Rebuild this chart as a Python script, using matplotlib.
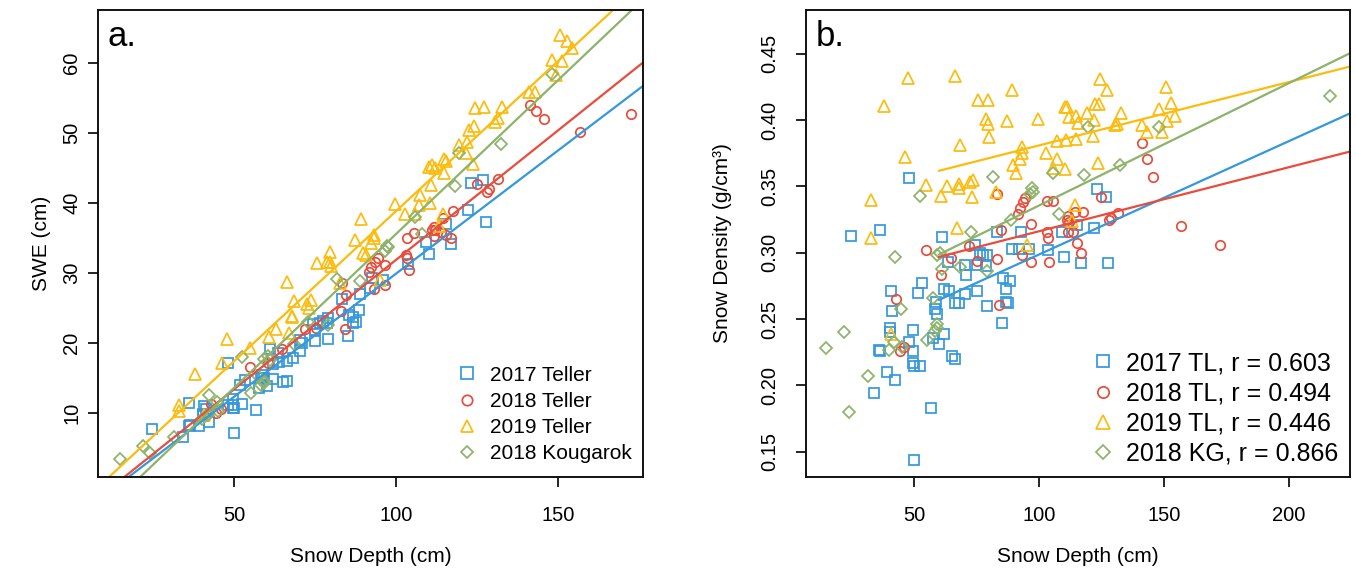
import numpy as np
import matplotlib
matplotlib.use('Agg')
import matplotlib.pyplot as plt

plt.rcParams['font.family'] = ['Liberation Sans', 'DejaVu Sans']

# snow depth (cm) and bulk density (g/cm3)
d17 = [48.0, 24.8, 36.2, 61.2, 74.4, 83.2, 92.6, 89.0, 92.0, 95.8, 103.7, 77.5, 79.1, 76.4,
       63.5, 70.4, 75.1, 78.8, 70.8, 85.5, 88.4, 86.8, 53.3, 51.7, 40.8, 62.1, 64.0, 70.4,
       75.1, 66.4, 68.1, 79.1, 86.8, 87.7, 58.7, 58.4, 59.1, 41.3, 85.1, 49.7, 40.4, 40.4,
       62.1, 60.1, 49.5, 48.0, 57.7, 36.0, 36.4, 39.1, 42.4, 34.1, 49.7, 50.0, 52.4, 56.8,
       50.1, 65.1, 66.4, 123.1, 126.8, 109.1, 115.3, 122.1, 110.0, 116.8, 127.7]
r17 = [0.356, 0.313, 0.317, 0.312, 0.306, 0.316, 0.316, 0.303, 0.303, 0.303, 0.302, 0.298,
       0.298, 0.300, 0.293, 0.291, 0.291, 0.290, 0.283, 0.281, 0.279, 0.273, 0.277, 0.270,
       0.271, 0.273, 0.271, 0.269, 0.271, 0.262, 0.262, 0.260, 0.263, 0.262, 0.263, 0.258,
       0.254, 0.256, 0.247, 0.242, 0.243, 0.240, 0.239, 0.231, 0.226, 0.233, 0.236, 0.227,
       0.226, 0.210, 0.204, 0.194, 0.217, 0.215, 0.215, 0.183, 0.144, 0.222, 0.220, 0.348,
       0.342, 0.316, 0.321, 0.319, 0.297, 0.292, 0.292]

d18 = [83.3, 54.8, 72.0, 84.6, 91.7, 92.4, 93.6, 94.5, 96.7, 103.1, 103.5, 103.3, 105.4,
       93.1, 83.1, 64.9, 75.2, 96.6, 60.6, 42.8, 84.1, 44.4, 46.0, 104.1, 141.2, 143.3,
       145.7, 124.9, 111.7, 111.1, 112.1, 114.4, 117.5, 128.0, 128.8, 131.5, 111.7, 113.7,
       115.3, 116.8, 156.8, 172.4]
r18 = [0.344, 0.302, 0.305, 0.317, 0.329, 0.334, 0.338, 0.341, 0.322, 0.316, 0.311, 0.339,
       0.339, 0.298, 0.295, 0.296, 0.294, 0.293, 0.283, 0.265, 0.261, 0.226, 0.229, 0.293,
       0.383, 0.371, 0.357, 0.342, 0.328, 0.325, 0.323, 0.331, 0.331, 0.325, 0.326, 0.330,
       0.316, 0.316, 0.307, 0.300, 0.320, 0.306]

d19 = [47.7, 66.2, 37.8, 75.7, 79.5, 89.3, 78.7, 79.7, 87.2, 99.5, 80.0, 68.4, 46.2, 93.1,
       93.3, 92.4, 89.7, 90.7, 102.7, 54.8, 63.0, 68.0, 68.0, 72.4, 73.6, 60.8, 73.0, 82.7,
       32.9, 32.9, 67.0, 95.0, 40.7, 124.4, 127.1, 110.2, 111.0, 112.1, 114.8, 115.5, 119.3,
       122.4, 124.0, 122.0, 132.8, 130.4, 131.3, 121.7, 114.7, 110.8, 107.3, 107.0, 105.7,
       110.4, 123.7, 141.1, 143.0, 148.1, 150.7, 152.8, 154.4, 151.1, 149.2, 114.4, 113.3]
r19 = [0.432, 0.433, 0.411, 0.415, 0.415, 0.423, 0.401, 0.397, 0.399, 0.401, 0.387, 0.381,
       0.372, 0.380, 0.375, 0.371, 0.366, 0.360, 0.375, 0.351, 0.350, 0.352, 0.349, 0.353,
       0.355, 0.343, 0.342, 0.346, 0.340, 0.311, 0.319, 0.306, 0.239, 0.431, 0.423, 0.410,
       0.410, 0.402, 0.403, 0.398, 0.405, 0.412, 0.412, 0.400, 0.405, 0.396, 0.397, 0.388,
       0.386, 0.385, 0.384, 0.371, 0.364, 0.363, 0.368, 0.396, 0.391, 0.408, 0.425, 0.413,
       0.403, 0.399, 0.391, 0.336, 0.324]

dkg = [52.3, 81.6, 72.7, 88.7, 97.1, 97.5, 96.5, 105.7, 108.0, 60.4, 59.3, 42.2, 61.2, 68.5,
       79.0, 57.4, 44.7, 59.3, 59.1, 58.4, 55.1, 42.0, 40.0, 45.0, 22.0, 14.8, 31.5, 24.1,
       119.5, 148.0, 118.1, 132.4, 216.4]
rkg = [0.343, 0.357, 0.316, 0.325, 0.349, 0.346, 0.344, 0.360, 0.329, 0.300, 0.298, 0.297,
       0.288, 0.289, 0.286, 0.266, 0.258, 0.246, 0.243, 0.241, 0.234, 0.233, 0.227, 0.229,
       0.240, 0.228, 0.207, 0.180, 0.395, 0.395, 0.359, 0.366, 0.418]

labels_a = ['2017 Teller', '2018 Teller', '2019 Teller', '2018 Kougarok']
labels_b = ['2017 TL, r = 0.603', '2018 TL, r = 0.494', '2019 TL, r = 0.446', '2018 KG, r = 0.866']

# fitted lines
# a: SWE = slope * depth + icpt
fit_a_slope = [0.352, 0.370, 0.429, 0.4397]
fit_a_icpt = [-5.27, -5.10, -4.03, -8.37]
# b: density at 60 cm and slope, drawn from 60 cm onwards
fit_b_start = 60
fit_b_y0 = [0.2645, 0.2969, 0.3618, 0.2987]
fit_b_slope = [0.000855, 0.000483, 0.000478, 0.000923]

depths = [d17, d18, d19, dkg]
dens = [r17, r18, r19, rkg]
colors = ['#3498db', '#e74c3c', '#fbbc0f', '#8cb369']
markers = ['s', 'o', '^', 'D']
msizes = [7.2, 6.8, 8.4, 5.9]

fig = plt.figure(figsize=(13.56, 5.77), dpi=100)
axa = fig.add_axes([0.0723, 0.1733, 0.4019, 0.8094])
axb = fig.add_axes([0.5944, 0.1733, 0.4012, 0.8094])

for i in range(4):
    d = np.array(depths[i])
    rho = np.array(dens[i])
    swe = d * rho  # SWE (cm) = depth x density
    kw = dict(ls='none', marker=markers[i], ms=msizes[i], mfc='none', mec=colors[i], mew=1.25)
    axa.plot(d, swe, label=labels_a[i], **kw)
    axb.plot(d, rho, label=labels_b[i], **kw)

for i in range(4):
    axa.axline((0, fit_a_icpt[i]), slope=fit_a_slope[i], color=colors[i], lw=1.6)
    xx = np.array([fit_b_start, 240])
    axb.plot(xx, fit_b_y0[i] + fit_b_slope[i] * (xx - fit_b_start), color=colors[i], lw=1.6)

axa.set_xlim(8, 176.2)
axa.set_ylim(0.86, 67.6)
axa.set_xticks([50, 100, 150])
axa.set_yticks([10, 20, 30, 40, 50, 60])
axb.set_xlim(6.8, 224.4)
axb.set_ylim(0.131, 0.483)
axb.set_xticks([50, 100, 150, 200])
axb.set_yticks([0.15, 0.20, 0.25, 0.30, 0.35, 0.40, 0.45])
axb.set_yticklabels(['%.2f' % v for v in axb.get_yticks()])

for ax in (axa, axb):
    for s in ax.spines.values():
        s.set_linewidth(1.4)
        s.set_color('#111111')
    ax.tick_params(axis='both', direction='out', length=7, width=1.2, labelsize=14.5)
    ax.tick_params(axis='x', pad=14)
    ax.tick_params(axis='y', labelrotation=90)
    for t in ax.get_yticklabels():
        t.set_va('center')
axa.tick_params(axis='y', pad=5)
axb.tick_params(axis='y', pad=12)

axa.set_xlabel('Snow Depth (cm)', fontsize=15)
axa.set_ylabel('SWE (cm)', fontsize=15)
axb.set_xlabel('Snow Depth (cm)', fontsize=15)
axb.set_ylabel('Snow Density (g/cm³)', fontsize=15)
for ax, xl, yl in ((axa, -0.171, -0.103), (axb, -0.171, -0.154)):
    ax.xaxis.label.set_va('center')
    ax.xaxis.set_label_coords(0.5, xl)
    ax.yaxis.label.set_va('center')
    ax.yaxis.set_label_coords(yl, 0.5)

axa.text(0.018, 0.923, 'a.', transform=axa.transAxes, fontsize=25, va='baseline')
axb.text(0.017, 0.923, 'b.', transform=axb.transAxes, fontsize=25, va='baseline')

axa.legend(loc='lower left', bbox_to_anchor=(0.658, 0.03), frameon=False, fontsize=15,
           handlelength=1.0, handletextpad=0.6, labelspacing=0.34, borderpad=0,
           borderaxespad=0, numpoints=1, markerscale=1.1)
axb.legend(loc='lower left', bbox_to_anchor=(0.523, 0.024), frameon=False, fontsize=18,
           handlelength=1.0, handletextpad=0.42, labelspacing=0.25, borderpad=0,
           borderaxespad=0, numpoints=1, markerscale=1.2)

fig.savefig('out.png', dpi=100)
